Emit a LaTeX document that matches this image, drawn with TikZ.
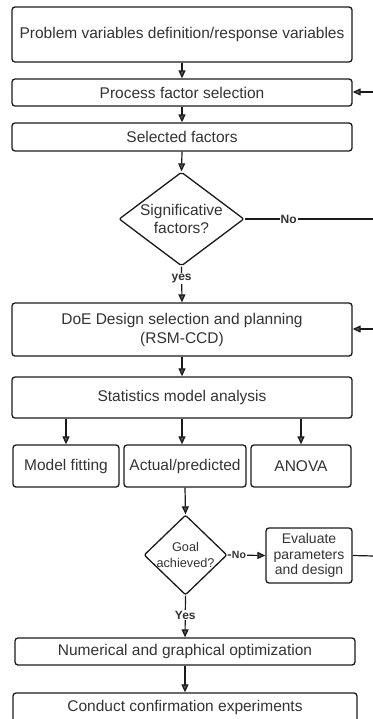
\documentclass[tikz,border=0pt]{standalone}
\usepackage{fontspec}
\setmainfont{Liberation Sans}
\usetikzlibrary{arrows.meta,shapes.geometric}
\definecolor{txt}{HTML}{333333}
\definecolor{edge}{HTML}{1A1A1A}
\definecolor{tipfill}{HTML}{555555}

\begin{document}
\begin{tikzpicture}[x=1pt,y=-1pt,
  every node/.style={text=txt},
  box/.style={draw=edge, line width=1.3pt, rounded corners=3pt, inner sep=0pt,
    font=\fontsize{15.5}{19}\selectfont, align=center},
  dia/.style={draw=edge, diamond, line width=1.3pt, rounded corners=2pt, inner sep=0pt},
  flow/.style={draw=edge, line width=1.2pt, -{Triangle[width=7pt,length=8pt,fill=tipfill]}},
  plain/.style={draw=edge, line width=1.2pt},
  lbl/.style={fill=white, inner sep=1pt, font=\bfseries\fontsize{12}{12}\selectfont},
]
\useasboundingbox (0,0) rectangle (372,719);

% main column
\node[box, minimum width=340pt, minimum height=55pt] (b1) at (182,34.5)
  {Problem variables definition/response variables};
\node[box, minimum width=340pt, minimum height=27pt] (b2) at (182,92.5)
  {Process factor selection};
\node[box, minimum width=340pt, minimum height=28pt] (b3) at (182,137)
  {Selected factors};

\node[dia, minimum width=125pt, minimum height=94pt] (d1) at (181.5,219) {};
\node[align=center, inner sep=0pt, font=\fontsize{15.5}{18}\selectfont] (d1t) at (d1.center)
  {Significative\\factors?};

\node[box, minimum width=340pt, minimum height=53pt] (b4) at (182,329.5)
  {DoE Design selection and planning\\(RSM-CCD)};
\node[box, minimum width=340pt, minimum height=41pt] (b5) at (182,397.5)
  {Statistics model analysis};

% analysis outputs
\node[box, minimum width=106pt, minimum height=42pt] (m1) at (66,466) {Model fitting};
\node[box, minimum width=122pt, minimum height=42pt] (m2) at (185,466) {Actual/predicted};
\node[box, minimum width=100pt, minimum height=42pt] (m3) at (301,466) {ANOVA};

\node[dia, minimum width=83pt, minimum height=80pt] (d2) at (185.5,555) {};
\node[align=center, inner sep=0pt, font=\fontsize{12.7}{16}\selectfont] (d2t) at (d2.center)
  {Goal\\achieved?};

\node[box, minimum width=86pt, minimum height=55pt, font=\fontsize{14}{15.5}\selectfont]
  (e1) at (309,555.5) {Evaluate\\parameters\\and design};

\node[box, minimum width=340pt, minimum height=27pt] (b6) at (185,651.5)
  {Numerical and graphical optimization};
\node[box, minimum width=344pt, minimum height=29pt] (b7) at (185,707.5)
  {Conduct confirmation experiments};

% loose ends at the right margin
\coordinate (r1) at (374,92);
\coordinate (r2) at (374,219);
\coordinate (r3) at (374,329);
\coordinate (r4) at (374,556);

% connectors
\draw[flow] (b1) -- (b2);
\draw[flow] (b2) -- (b3);
\draw[flow] (b3.south) -- (d1.north);
\draw[flow] (d1.south) -- node[lbl, pos=0.32] {yes} (b4.north);
\draw[plain] (d1.east) -- node[lbl, pos=0.34] {No} (r2);
\draw[flow] (r1) -- (b2.east |- r1);
\draw[flow] (r3) -- (b4.east |- r3);
\draw[flow] (b4) -- (b5);
\draw[flow] (b5.south -| m1.north) -- (m1.north);
\draw[flow] (b5.south) -- (b5.south |- m2.north);
\draw[flow] (b5.south -| m3.north) -- (m3.north);
\draw[flow] (m2.south) -- (d2.north);
\draw[flow] (d2.east) -- node[lbl, pos=0.3, font=\bfseries\fontsize{10.5}{10.5}\selectfont] {No} (e1.west);
\draw[plain] (e1.east) -- (r4);
\draw[flow] (d2.south) -- node[lbl, pos=0.47] {Yes} (b6.north);
\draw[flow] (b6) -- (b7);
\end{tikzpicture}
\end{document}
